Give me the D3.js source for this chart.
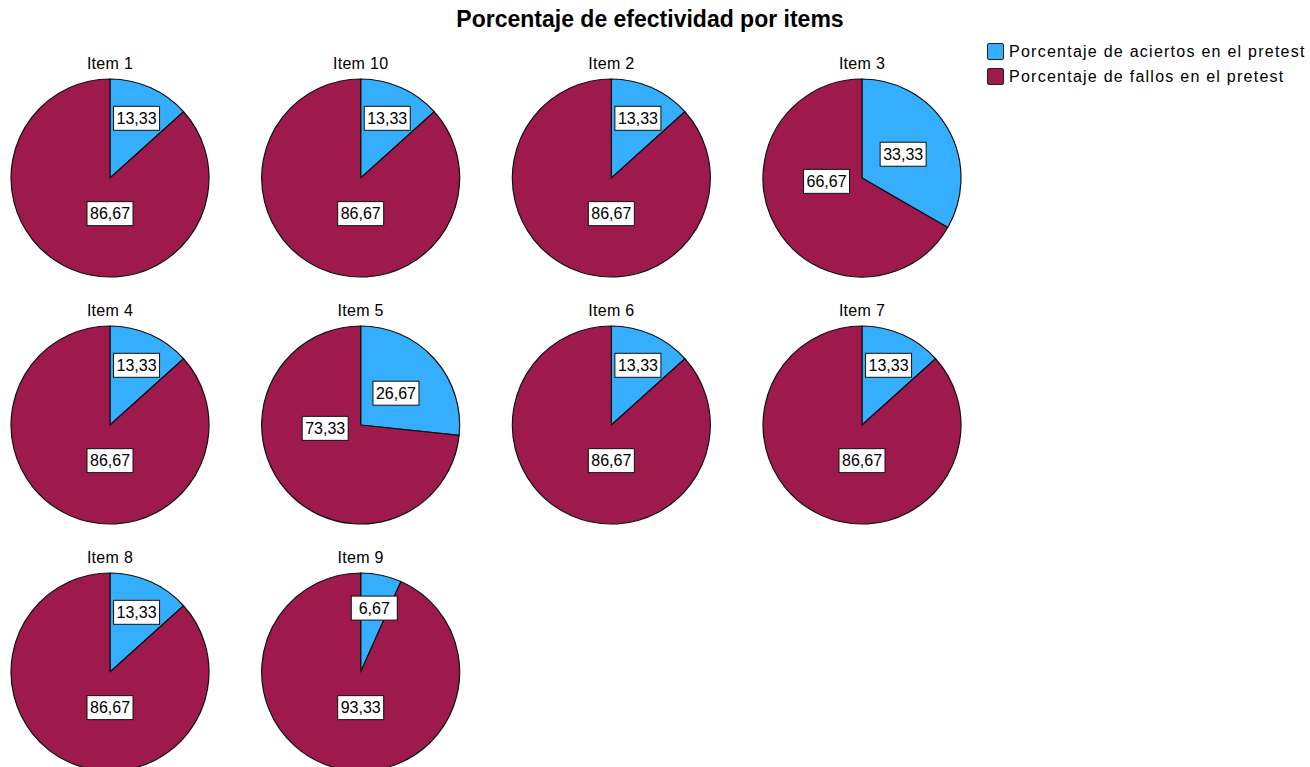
<!DOCTYPE html>
<html>
<head>
<meta charset="utf-8">
<script src="https://cdn.jsdelivr.net/npm/d3@7"></script>
<style>
    body { margin: 0; background: #fff; }
    svg { display: block; font-family: "Liberation Sans", Arial, sans-serif; }
</style>
</head>
<body>
<div id="chart"></div>
<script>
const items = ['Item 1', 'Item 10', 'Item 2', 'Item 3', 'Item 4', 'Item 5', 'Item 6', 'Item 7', 'Item 8', 'Item 9'];
const aciertos = [13.33, 13.33, 13.33, 33.33, 13.33, 26.67, 13.33, 13.33, 13.33, 6.67];
const fallos = [86.67, 86.67, 86.67, 66.67, 86.67, 73.33, 86.67, 86.67, 86.67, 93.33];
const seriesNames = ['Porcentaje de aciertos en el pretest', 'Porcentaje de fallos en el pretest'];
const colors = ['#35aefe', '#9e1a4c'];

const width = 1310, height = 767;
const radius = 99;
const nCols = 4;

const locale = d3.formatLocale({decimal: ',', thousands: '.', grouping: [3], currency: ['', '']});
const fmt = locale.format('.2f');

const svg = d3.select('#chart').append('svg')
    .attr('width', width)
    .attr('height', height);

svg.append('text')
    .attr('x', 650)
    .attr('y', 27)
    .attr('text-anchor', 'middle')
    .attr('font-size', 23)
    .attr('font-weight', 'bold')
    .text('Porcentaje de efectividad por items');

// grid of pies
const xScale = d3.scalePoint()
    .domain(d3.range(nCols))
    .range([110, 862]);
const yScale = d3.scalePoint()
    .domain(d3.range(Math.ceil(items.length / nCols)))
    .range([178, 672]);

const color = d3.scaleOrdinal().domain(seriesNames).range(colors);

const pie = d3.pie().sort(null).value(d => d.value);
const arc = d3.arc().innerRadius(0).outerRadius(radius);

const pieData = items.map((name, i) => ({
    name: name,
    slices: [
        {series: seriesNames[0], value: aciertos[i]},
        {series: seriesNames[1], value: fallos[i]}
    ]
}));

const groups = svg.selectAll('.pie')
    .data(pieData)
    .enter()
    .append('g')
    .attr('class', 'pie')
    .attr('transform', (d, i) => `translate(${xScale(i % nCols)},${yScale(Math.floor(i / nCols))})`);

groups.append('text')
    .attr('y', -radius - 10)
    .attr('text-anchor', 'middle')
    .attr('font-size', 16)
    .attr('letter-spacing', 0.3)
    .text(d => d.name);

groups.selectAll('path')
    .data(d => pie(d.slices))
    .enter()
    .append('path')
    .attr('d', arc)
    .attr('fill', d => color(d.data.series))
    .attr('stroke', '#111')
    .attr('stroke-width', 1.2)
    .attr('stroke-linejoin', 'round');

// label position: roughly how the original tool places them
function labelPos(d) {
    const share = d.value / 100;
    let ang, r;
    if (d.index === 0) {
        ang = (d.startAngle + d.endAngle) / 2;
        r = share < 0.2 ? radius * 0.66 : radius * 0.48;
    } else {
        ang = share > 0.8 ? Math.PI : Math.PI * 1.47;
        r = radius * 0.36;
    }
    return [r * Math.sin(ang), -r * Math.cos(ang)];
}

const labels = groups.selectAll('.lbl')
    .data(d => pie(d.slices))
    .enter()
    .append('g')
    .attr('class', 'lbl')
    .attr('transform', d => `translate(${labelPos(d)})`);

labels.append('rect')
    .attr('x', -23)
    .attr('y', -12)
    .attr('width', 46)
    .attr('height', 24)
    .attr('fill', '#fff')
    .attr('stroke', '#111')
    .attr('stroke-width', 1);

labels.append('text')
    .attr('text-anchor', 'middle')
    .attr('dy', '0.36em')
    .attr('font-size', 16)
    .text(d => fmt(d.value));

// legend
const legend = svg.append('g')
    .attr('transform', 'translate(987,43)');

const legendItems = legend.selectAll('.leg')
    .data(seriesNames)
    .enter()
    .append('g')
    .attr('class', 'leg')
    .attr('transform', (d, i) => `translate(0,${i * 25})`);

legendItems.append('rect')
    .attr('x', 0.5)
    .attr('y', 0.5)
    .attr('width', 16)
    .attr('height', 16)
    .attr('rx', 1.5)
    .attr('fill', d => color(d))
    .attr('stroke', '#222');

legendItems.append('text')
    .attr('x', 22)
    .attr('y', 14)
    .attr('font-size', 16)
    .attr('letter-spacing', 1.25)
    .text(d => d);
</script>
</body>
</html>
